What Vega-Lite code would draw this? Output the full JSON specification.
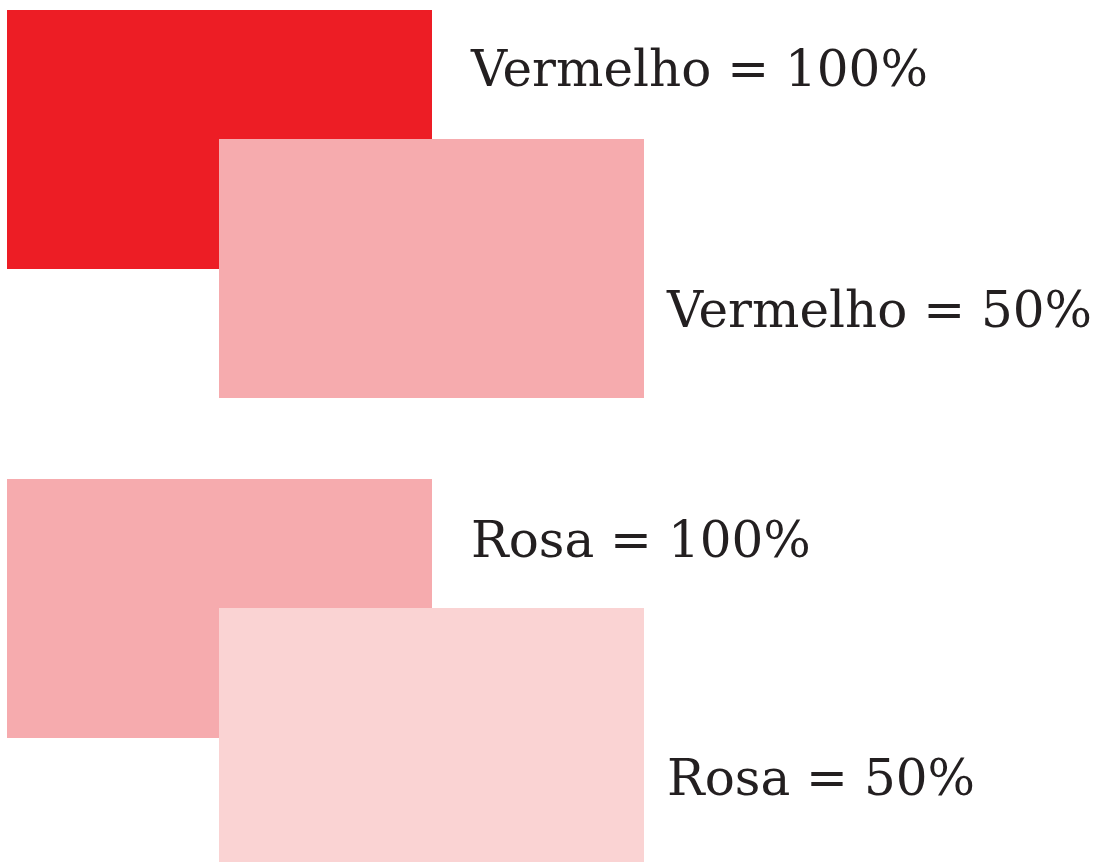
{
  "$schema": "https://vega.github.io/schema/vega-lite/v6.json",
  "width": 1098,
  "height": 862,
  "padding": 0,
  "autosize": {"type": "none"},
  "background": "white",
  "config": {"view": {"stroke": null}},
  "layer": [
    {
      "data": {"values": [
        {"shape": "Vermelho 100%", "x0": 7, "x1": 432, "y0": 10, "y1": 269},
        {"shape": "Vermelho 50%", "x0": 219, "x1": 644, "y0": 139, "y1": 398},
        {"shape": "Rosa 100%", "x0": 7, "x1": 432, "y0": 479, "y1": 738},
        {"shape": "Rosa 50%", "x0": 219, "x1": 644, "y0": 608, "y1": 862}
      ]},
      "mark": {"type": "rect"},
      "encoding": {
        "x": {"field": "x0", "type": "quantitative", "scale": {"domain": [0, 1098], "nice": false, "zero": false}, "axis": null},
        "x2": {"field": "x1"},
        "y": {"field": "y0", "type": "quantitative", "scale": {"domain": [0, 862], "nice": false, "zero": false, "reverse": true}, "axis": null},
        "y2": {"field": "y1"},
        "color": {"field": "shape", "type": "nominal", "legend": null,
          "scale": {"domain": ["Vermelho 100%", "Vermelho 50%", "Rosa 100%", "Rosa 50%"],
                    "range": ["#ED1D25", "#F6ABAE", "#F6ABAE", "#FAD3D3"]}}
      }
    },
    {
      "data": {"values": [
        {"label": "Vermelho = 100%", "tx": 471, "ty": 86},
        {"label": "Vermelho = 50%", "tx": 667, "ty": 327},
        {"label": "Rosa = 100%", "tx": 471, "ty": 557},
        {"label": "Rosa = 50%", "tx": 667, "ty": 795}
      ]},
      "mark": {"type": "text", "align": "left", "baseline": "alphabetic", "font": "DejaVu Serif", "fontSize": 50, "color": "#231F20"},
      "encoding": {
        "x": {"field": "tx", "type": "quantitative"},
        "y": {"field": "ty", "type": "quantitative"},
        "text": {"field": "label"}
      }
    }
  ]
}
